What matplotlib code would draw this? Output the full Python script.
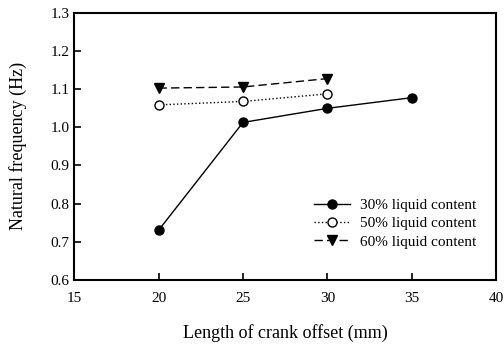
import matplotlib
matplotlib.use("Agg")
import matplotlib.pyplot as plt

plt.rcParams['font.family'] = ['Liberation Serif', 'DejaVu Serif']

# data
offset_30 = [20, 25, 30, 35]
freq_30 = [0.73, 1.013, 1.05, 1.078]
offset_50 = [20, 25, 30]
freq_50 = [1.059, 1.068, 1.088]
offset_60 = [20, 25, 30]
freq_60 = [1.103, 1.106, 1.128]

xticks = [15, 20, 25, 30, 35, 40]
yticks = [0.6, 0.7, 0.8, 0.9, 1.0, 1.1, 1.2, 1.3]

fig = plt.figure(figsize=(5.04, 3.52), dpi=100)
ax = fig.add_axes([0.147, 0.205, 0.838, 0.758])

ax.plot(offset_30, freq_30, color='black', linestyle='-', linewidth=1.0,
        marker='o', markersize=6.5, markerfacecolor='black', label='30% liquid content')
ax.plot(offset_50, freq_50, color='black', linestyle=':', linewidth=1.0,
        marker='o', markersize=6.5, markerfacecolor='white', label='50% liquid content')
ax.plot(offset_60, freq_60, color='black', linestyle=(0, (6, 3)), linewidth=1.0,
        marker='v', markersize=7.5, markerfacecolor='black', label='60% liquid content')

ax.set_xlim(15, 40)
ax.set_ylim(0.6, 1.3)
ax.set_xticks(xticks)
ax.set_yticks(yticks)
ax.set_yticklabels(['%.1f' % v for v in yticks])
ax.tick_params(direction='in', length=5, width=1.2, labelsize=11, top=False, right=False)
ax.tick_params(axis='x', pad=9)
for s in ax.spines.values():
    s.set_linewidth(1.5)

ax.set_xlabel('Length of crank offset (mm)', fontsize=13)
ax.set_ylabel('Natural frequency (Hz)', fontsize=13)
ax.xaxis.set_label_coords(0.5, -0.165)
ax.yaxis.set_label_coords(-0.112, 0.5)

ax.legend(loc='lower right', bbox_to_anchor=(0.967, 0.094), frameon=False, fontsize=11,
          handlelength=2.4, borderaxespad=0, labelspacing=0.3, handletextpad=0.65)

fig.savefig('out.png', dpi=100)
